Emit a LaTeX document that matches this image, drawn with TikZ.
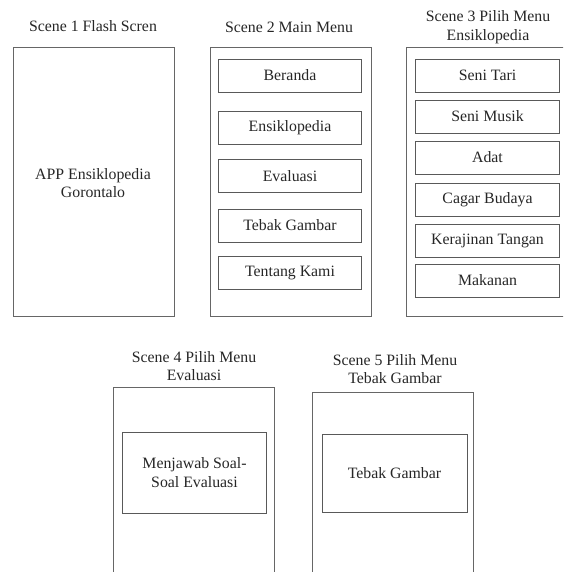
\documentclass[tikz,border=0pt]{standalone}
\usepackage{fontspec}
\setmainfont{Liberation Serif}
\usetikzlibrary{positioning}

\begin{document}
\begin{tikzpicture}[x=0.03cm, y=-0.03cm,
    every node/.append style={font=\fontsize{13.5}{16}\selectfont, text=black!85},
    screen/.style={draw=black!60, line width=0.8pt, minimum width=4.83cm, minimum height=8.07cm},
    item/.style={draw=black!65, line width=0.6pt, minimum width=4.3cm, minimum height=0.99cm, align=center},
    title/.style={align=center},
]

\clip (0,0) rectangle (563,572);

% scene 1
\node[title] (t1) at (93, 26) {Scene 1 Flash Scren};
\node[screen] (s1) at (93.5, 181.5) {};
\node[align=center] (app) at (93, 183) {APP Ensiklopedia\\Gorontalo};

% scene 2
\node[title] (t2) at (289, 27) {Scene 2 Main Menu};
\node[screen] (s2) at (290.5, 181.5) {};
\node[item] (beranda) at (290, 75.5) {Beranda};
\node[item] (ensi) at (290, 127.5) {Ensiklopedia};
\node[item] (eval) at (290, 176) {Evaluasi};
\node[item] (tebak) at (290, 225.5) {Tebak Gambar};
\node[item] (tentang) at (290, 272.5) {Tentang Kami};

% scene 3
\node[title] (t3) at (488, 27) {Scene 3 Pilih Menu\\Ensiklopedia};
\node[screen] (s3) at (486.5, 182) {};
\node[item] (tari) at (487.5, 75.5) {Seni Tari};
\node[item] (musik) at (487.5, 116.5) {Seni Musik};
\node[item] (adat) at (487.5, 157.5) {Adat};
\node[item] (cagar) at (487.5, 199.5) {Cagar Budaya};
\node[item] (kerajinan) at (487.5, 241) {Kerajinan Tangan};
\node[item] (makanan) at (487.5, 280.5) {Makanan};

% scene 4
\node[title] (t4) at (194, 366) {Scene 4 Pilih Menu\\Evaluasi};
\node[screen] (s4) at (193.5, 521.5) {};
\node[item, minimum height=2.43cm] (soal) at (194.5, 472.5) {Menjawab Soal-\\Soal Evaluasi};

% scene 5
\node[title] (t5) at (395, 369) {Scene 5 Pilih Menu\\Tebak Gambar};
\node[screen] (s5) at (393, 526.5) {};
\node[item, minimum width=4.35cm, minimum height=2.34cm] (gambar) at (394.5, 473) {Tebak Gambar};

\end{tikzpicture}
\end{document}
